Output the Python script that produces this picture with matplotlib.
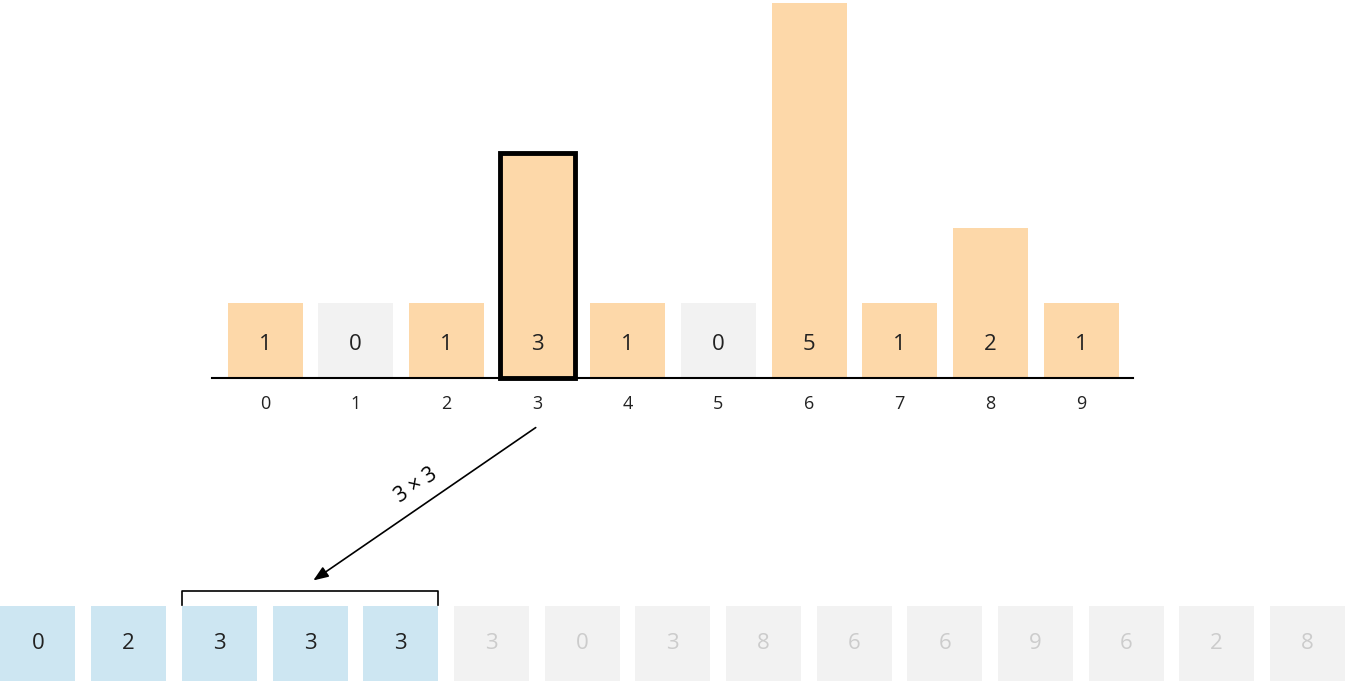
import matplotlib
matplotlib.use("Agg")
import matplotlib.pyplot as plt

categories = list(range(10))
counts = [1, 0, 1, 3, 1, 0, 5, 1, 2, 1]
output = [0, 2, 3, 3, 3, 3, 0, 3, 8, 6, 6, 9, 6, 2, 8]
filled = 5
highlight = 3
label = "3 × 3"

ORANGE = "#fdd8a9"
GRAY = "#f2f2f2"
BLUE = "#cde6f2"
FONT = ["Open Sans", "DejaVu Sans"]

W, H = 1346, 682
ux, uy = 90.67, 75.0
x0px, y0px = 265, 378
fig = plt.figure(figsize=(W/100, H/100), dpi=100)
ax = fig.add_axes([0, 0, 1, 1])
ax.set_xlim(-x0px/ux, (W - x0px)/ux)
ax.set_ylim(-(H - y0px)/uy, y0px/uy)
ax.axis("off")

bw = 75/ux
for c, v in zip(categories, counts):
    if v > 0:
        ax.bar(c, v, width=bw, color=ORANGE, linewidth=0)
    else:
        ax.bar(c, 1, width=bw, color=GRAY, linewidth=0)
    ax.text(c, 0.45, str(v), ha="center", va="center", fontsize=16, family=FONT, color="#222222")
    ax.text(c, -0.35, str(c), ha="center", va="center", fontsize=13, family=FONT, color="#222222")
ax.bar(highlight, counts[highlight], width=bw, fill=False, edgecolor="black", linewidth=3.5)
ax.plot([-53/ux, (1133-x0px)/ux], [0, 0], color="black", lw=1.5)

start = (38 - x0px)/ux
ch = 75/uy
ybot = -(681 - y0px)/uy
for j, v in enumerate(output):
    xc = start + j
    ax.bar(xc, ch, bottom=ybot, width=bw, color=BLUE if j < filled else GRAY, linewidth=0)
    ax.text(xc, ybot + ch/2, str(v), ha="center", va="center", fontsize=16, family=FONT,
            color="#222222" if j < filled else "#cccccc")

# bracket over cells 2..4
bl = start + 2 - bw/2
br = start + 4 + bw/2
yt = -(591 - y0px)/uy
yb = -(605 - y0px)/uy
ax.plot([bl, bl, br, br], [yb, yt, yt, yb], color="black", lw=1.2)

ax.annotate("", xy=((311 - x0px)/ux, -(582 - y0px)/uy), xytext=((538 - x0px)/ux, -(426 - y0px)/uy),
            arrowprops=dict(arrowstyle="-|>,head_length=0.9,head_width=0.35", color="black", lw=1.2))
ax.text((416 - x0px)/ux, -(485 - y0px)/uy, label, rotation=34, ha="center", va="center",
        fontsize=15, family=FONT, rotation_mode="anchor")

fig.savefig("out.png", dpi=100)
